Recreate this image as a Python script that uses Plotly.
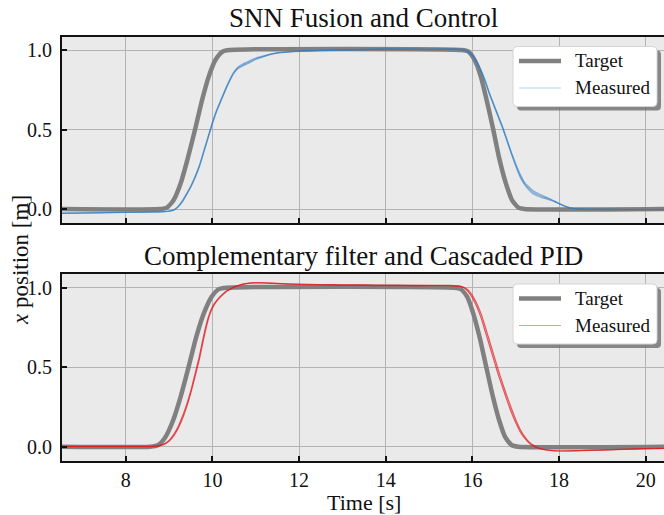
import plotly.graph_objects as go

# ---------------- data ----------------
# Target trajectories (smooth step up and down)
t_target_top = [6.5, 8.79, 8.95, 9.11, 9.27, 9.43, 9.60, 9.76, 9.92, 10.08, 10.24, 10.40,
                15.75, 15.90, 16.04, 16.19, 16.33, 16.48, 16.62, 16.77, 16.91, 17.06, 17.20, 20.5]
x_target_top = [0.0, 0.0, 0.009, 0.058, 0.163, 0.317, 0.5, 0.683, 0.837, 0.942, 0.991, 1.0,
                1.0, 0.991, 0.942, 0.837, 0.683, 0.5, 0.317, 0.163, 0.058, 0.009, 0.0, 0.0]

t_target_bot = [6.5, 8.56, 8.74, 8.91, 9.09, 9.27, 9.45, 9.62, 9.80, 9.98, 10.15, 10.33,
                15.58, 15.73, 15.88, 16.02, 16.17, 16.32, 16.47, 16.62, 16.76, 16.91, 17.06, 20.5]
x_target_bot = [0.0, 0.0, 0.009, 0.058, 0.163, 0.317, 0.5, 0.683, 0.837, 0.942, 0.991, 1.0,
                1.0, 0.991, 0.942, 0.837, 0.683, 0.5, 0.317, 0.163, 0.058, 0.009, 0.0, 0.0]

# Measured runs, SNN fusion and control (top)
t_meas_top = [6.5, 7.0, 7.5, 8.0, 8.5, 8.9, 9.1, 9.2, 9.3, 9.4, 9.5, 9.6, 9.7, 9.8, 9.9,
              10.0, 10.1, 10.2, 10.3, 10.4, 10.5, 10.6, 10.7, 10.8, 11.0, 11.2, 11.4, 11.6,
              11.8, 12.0, 12.5, 13.0, 13.5, 14.0, 14.5, 15.0, 15.5, 15.7, 15.8, 15.9, 16.0,
              16.1, 16.2, 16.3, 16.4, 16.5, 16.6, 16.7, 16.8, 16.9, 17.0, 17.1, 17.2, 17.3,
              17.4, 17.5, 17.6, 17.7, 17.8, 17.9, 18.0, 18.1, 18.2, 18.3, 18.5, 19.0, 19.5,
              20.0, 20.5]
snn_run_a = [-0.027, -0.025, -0.023, -0.021, -0.019, -0.016, -0.008, 0.012, 0.045, 0.09,
             0.14, 0.20, 0.27, 0.36, 0.45, 0.54, 0.62, 0.685, 0.75, 0.81, 0.86, 0.89, 0.905,
             0.918, 0.945, 0.962, 0.977, 0.985, 0.99, 0.993, 0.997, 1.0, 1.003, 1.006, 1.005,
             1.004, 1.006, 1.005, 1.0, 0.99, 0.965, 0.925, 0.87, 0.80, 0.72, 0.65, 0.58, 0.51,
             0.43, 0.35, 0.275, 0.21, 0.16, 0.13, 0.105, 0.09, 0.08, 0.07, 0.06, 0.048, 0.035,
             0.022, 0.012, 0.005, 0.0, -0.002, -0.003, -0.003, -0.003]
snn_run_b = [-0.026, -0.024, -0.022, -0.02, -0.018, -0.015, -0.006, 0.015, 0.05, 0.095,
             0.145, 0.205, 0.275, 0.365, 0.455, 0.545, 0.625, 0.69, 0.755, 0.815, 0.865, 0.895,
             0.912, 0.925, 0.95, 0.965, 0.978, 0.986, 0.99, 0.993, 0.998, 1.001, 1.004, 1.007,
             1.006, 1.005, 1.007, 1.006, 1.002, 0.992, 0.968, 0.93, 0.875, 0.805, 0.725, 0.655,
             0.585, 0.515, 0.435, 0.355, 0.285, 0.22, 0.17, 0.14, 0.115, 0.10, 0.088, 0.075,
             0.062, 0.048, 0.034, 0.022, 0.012, 0.005, 0.0, -0.002, -0.003, -0.003, -0.003]
snn_run_c = [-0.028, -0.026, -0.024, -0.022, -0.02, -0.017, -0.009, 0.01, 0.042, 0.087,
             0.137, 0.197, 0.266, 0.355, 0.445, 0.535, 0.615, 0.68, 0.745, 0.805, 0.855, 0.885,
             0.9, 0.912, 0.94, 0.96, 0.976, 0.984, 0.989, 0.992, 0.996, 0.999, 1.002, 1.005,
             1.004, 1.003, 1.005, 1.004, 0.998, 0.988, 0.962, 0.92, 0.865, 0.795, 0.715, 0.645,
             0.575, 0.505, 0.425, 0.345, 0.268, 0.2, 0.155, 0.12, 0.095, 0.082, 0.072, 0.064,
             0.055, 0.045, 0.033, 0.021, 0.011, 0.004, -0.001, -0.003, -0.004, -0.004, -0.004]

# Measured runs, complementary filter and cascaded PID (bottom)
t_meas_bot = [6.5, 7.0, 7.5, 8.0, 8.5, 8.7, 8.8, 8.9, 9.0, 9.1, 9.2, 9.3, 9.4, 9.5, 9.6,
              9.7, 9.8, 9.9, 10.0, 10.1, 10.2, 10.3, 10.4, 10.5, 10.6, 10.8, 11.0, 11.2,
              11.5, 12.0, 12.5, 13.0, 13.5, 14.0, 14.5, 15.0, 15.5, 15.7, 15.8, 15.9, 16.0,
              16.1, 16.2, 16.3, 16.4, 16.5, 16.6, 16.7, 16.8, 16.9, 17.0, 17.1, 17.2, 17.3,
              17.4, 17.5, 17.6, 17.8, 18.0, 18.2, 18.5, 19.0, 19.5, 20.0, 20.5]
pid_run_a = [0.002, 0.002, 0.002, 0.002, 0.002, 0.004, 0.01, 0.02, 0.04, 0.075, 0.12, 0.185,
             0.26, 0.35, 0.46, 0.57, 0.70, 0.81, 0.88, 0.92, 0.95, 0.975, 0.99, 1.005, 1.015,
             1.027, 1.032, 1.03, 1.027, 1.022, 1.02, 1.018, 1.017, 1.016, 1.015, 1.015, 1.014,
             1.01, 1.0, 0.975, 0.935, 0.88, 0.81, 0.72, 0.63, 0.54, 0.45, 0.37, 0.29, 0.215,
             0.15, 0.095, 0.055, 0.025, 0.005, -0.008, -0.016, -0.024, -0.027, -0.026, -0.024,
             -0.02, -0.016, -0.012, -0.01]
pid_run_b = [0.0, 0.0, 0.0, 0.0, 0.0, 0.002, 0.007, 0.016, 0.034, 0.065, 0.11, 0.17, 0.245,
             0.335, 0.44, 0.55, 0.68, 0.795, 0.87, 0.915, 0.945, 0.97, 0.988, 1.003, 1.013,
             1.025, 1.03, 1.03, 1.026, 1.02, 1.017, 1.015, 1.014, 1.013, 1.012, 1.012, 1.012,
             1.01, 1.003, 0.985, 0.95, 0.90, 0.835, 0.75, 0.66, 0.57, 0.48, 0.395, 0.315, 0.24,
             0.17, 0.11, 0.065, 0.032, 0.01, -0.005, -0.014, -0.023, -0.027, -0.027, -0.025,
             -0.021, -0.017, -0.013, -0.011]

x_ticks = [8, 10, 12, 14, 16, 18, 20]
y_ticks = [0.0, 0.5, 1.0]
y_tick_labels = ["0.0", "0.5", "1.0"]
titles = ["SNN Fusion and Control", "Complementary filter and Cascaded PID"]
legend_labels = ["Target", "Measured"]

# ---------------- styling ----------------
FONT = "Liberation Serif"
GRAY = "#808080"
BLUE = "rgba(50,125,195,0.55)"
RED = "rgba(225,25,30,0.72)"
BLUE_LEG = "rgba(50,125,195,0.35)"
RED_LEG = "rgba(225,25,30,0.45)"

fig = go.Figure()

# top panel
fig.add_trace(go.Scatter(x=t_target_top, y=x_target_top, mode="lines", name="Target",
                         line=dict(color=GRAY, width=4.5, shape="spline", smoothing=0.6),
                         xaxis="x", yaxis="y"))
for run in [snn_run_a, snn_run_b, snn_run_c]:
    fig.add_trace(go.Scatter(x=t_meas_top, y=run, mode="lines", name="Measured",
                             line=dict(color=BLUE, width=1.2, shape="spline", smoothing=0.6),
                             xaxis="x", yaxis="y"))

# bottom panel
fig.add_trace(go.Scatter(x=t_target_bot, y=x_target_bot, mode="lines", name="Target",
                         line=dict(color=GRAY, width=4.5, shape="spline", smoothing=0.6),
                         xaxis="x2", yaxis="y2"))
for run in [pid_run_a, pid_run_b]:
    fig.add_trace(go.Scatter(x=t_meas_bot, y=run, mode="lines", name="Measured",
                             line=dict(color=RED, width=1.2, shape="spline", smoothing=0.6),
                             xaxis="x2", yaxis="y2"))

W, H = 664, 515
ML, MR, MT, MB = 62, 0, 37, 54
PW, PH = W - ML - MR, H - MT - MB


def px_x(px):
    return (px - ML) / PW


def px_y(py):
    return (H - MB - py) / PH


xcommon = dict(range=[6.53, 20.42], tickvals=x_ticks, ticks="inside", ticklen=5,
               tickwidth=1.5, tickcolor="#111", showline=True, linecolor="#111",
               linewidth=1.8, mirror=True, showgrid=True, gridcolor="#b3b3b3",
               gridwidth=1.3, zeroline=False,
               tickfont=dict(family=FONT, size=20, color="#111"))
ycommon = dict(tickvals=y_ticks, ticktext=y_tick_labels, ticks="inside", ticklen=5,
               tickwidth=1.5, tickcolor="#111", showline=True, linecolor="#111",
               linewidth=1.8, mirror=False, showgrid=True, gridcolor="#b3b3b3",
               gridwidth=1.3, zeroline=False, ticklabelstandoff=4,
               tickfont=dict(family=FONT, size=20, color="#111"))

fig.update_layout(
    width=W, height=H,
    margin=dict(l=ML, r=MR, t=MT, b=MB),
    paper_bgcolor="white", plot_bgcolor="#eaeaea",
    font=dict(family=FONT, color="#111"),
    xaxis=dict(domain=[0, 1], anchor="y", showticklabels=False, **xcommon),
    yaxis=dict(domain=[px_y(223), 1], anchor="x", range=[-0.088, 1.082], **ycommon),
    xaxis2=dict(domain=[0, 1], anchor="y2", showticklabels=True, **xcommon),
    yaxis2=dict(domain=[0, px_y(274)], anchor="x2", range=[-0.09, 1.086], **ycommon),
    showlegend=False,
)


def rounded_rect(x0, y0, x1, y1, r):
    """SVG path (paper coords) of a rounded rectangle given pixel corners."""
    X = px_x
    Y = px_y
    return (f"M{X(x0 + r)},{Y(y0)} L{X(x1 - r)},{Y(y0)} Q{X(x1)},{Y(y0)} {X(x1)},{Y(y0 + r)} "
            f"L{X(x1)},{Y(y1 - r)} Q{X(x1)},{Y(y1)} {X(x1 - r)},{Y(y1)} "
            f"L{X(x0 + r)},{Y(y1)} Q{X(x0)},{Y(y1)} {X(x0)},{Y(y1 - r)} "
            f"L{X(x0)},{Y(y0 + r)} Q{X(x0)},{Y(y0)} {X(x0 + r)},{Y(y0)} Z")


# hand-drawn legends (matplotlib-style fancy box with shadow)
for top, meas_color in [(46.5, BLUE_LEG), (284, RED_LEG)]:
    bot = top + 60
    fig.add_shape(type="path", xref="paper", yref="paper",
                  path=rounded_rect(517, top + 4, 661, bot + 4, 4),
                  fillcolor="rgba(110,110,110,0.8)", line=dict(width=0), layer="above")
    fig.add_shape(type="path", xref="paper", yref="paper",
                  path=rounded_rect(513, top, 657, bot, 4),
                  fillcolor="white", line=dict(color="#d5d5d5", width=1), layer="above")
    for k, (lab, col, wid) in enumerate([(legend_labels[0], GRAY, 4.5),
                                         (legend_labels[1], meas_color, 1.2)]):
        yy = top + 14.5 + 27 * k
        fig.add_shape(type="line", xref="paper", yref="paper",
                      x0=px_x(519), x1=px_x(561), y0=px_y(yy), y1=px_y(yy),
                      line=dict(color=col, width=wid), layer="above")
        fig.add_annotation(text=lab, x=px_x(573), y=px_y(yy), xref="paper", yref="paper",
                           showarrow=False, xanchor="left", yanchor="middle",
                           font=dict(family=FONT, size=19, color="#111"))

# titles and axis labels
fig.add_annotation(text=titles[0], x=0.5, y=px_y(18), xref="paper", yref="paper",
                   showarrow=False, yanchor="middle",
                   font=dict(family=FONT, size=27, color="#111"))
fig.add_annotation(text=titles[1], x=0.5, y=px_y(255.5), xref="paper", yref="paper",
                   showarrow=False, yanchor="middle",
                   font=dict(family=FONT, size=27, color="#111"))
fig.add_annotation(text="Time [s]", x=px_x(364), y=px_y(502), xref="paper", yref="paper",
                   showarrow=False, yanchor="middle",
                   font=dict(family=FONT, size=22, color="#111"))
fig.add_annotation(text="<i>x</i> position [m]", x=px_x(20), y=px_y(260), xref="paper",
                   yref="paper", showarrow=False, textangle=-90, xanchor="center",
                   yanchor="middle", font=dict(family=FONT, size=23, color="#111"))

fig.write_html("out.html", config={"displayModeBar": False},
               post_script="document.body.style.margin='0';document.body.style.overflow='hidden';")
